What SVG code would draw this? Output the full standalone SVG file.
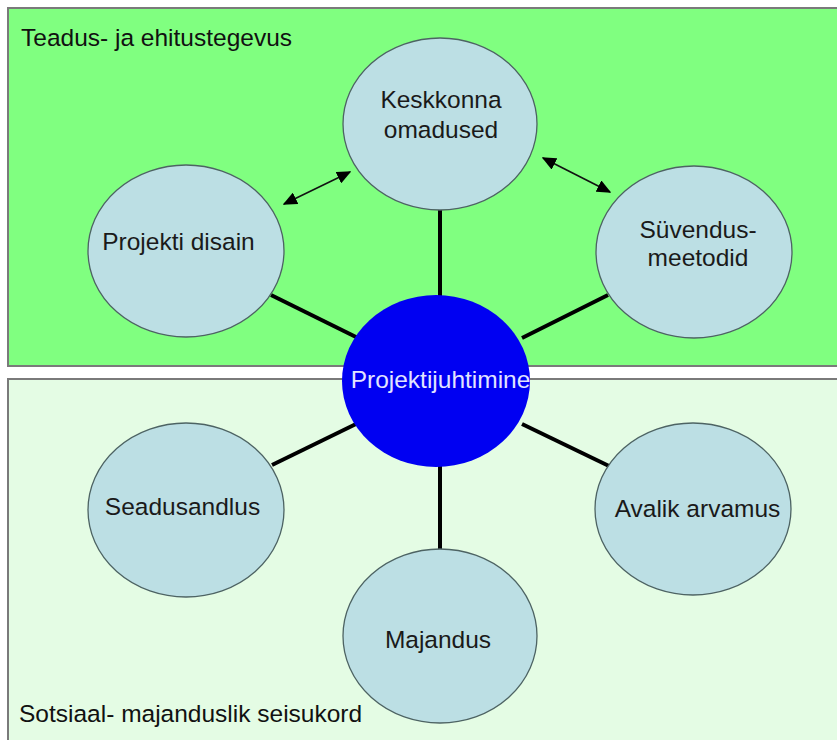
<svg xmlns="http://www.w3.org/2000/svg" width="837" height="740" viewBox="0 0 837 740">
  <defs>
    <style>
      .zone-top { fill: #80ff80; stroke: #7a7a7a; stroke-width: 2; }
      .zone-bot { fill: #e4fce4; stroke: #7a7a7a; stroke-width: 2; }
      .node { fill: #bcdfe4; stroke: #4d6363; stroke-width: 1.3; }
      .hub { fill: #0000f2; stroke: none; }
      .lbl { font-family: "Liberation Sans", Arial, sans-serif; font-size: 24.5px; fill: #1a1a1a; text-anchor: middle; }
      .zlbl { font-family: "Liberation Sans", Arial, sans-serif; font-size: 24.5px; fill: #111; }
      .hublbl { font-family: "Liberation Sans", Arial, sans-serif; font-size: 24.5px; fill: #e2e4ff; text-anchor: middle; }
      .spoke { stroke: #000; stroke-width: 4; fill: none; }
      .rel { stroke: #111; stroke-width: 1.6; fill: none; marker-start: url(#ah); marker-end: url(#ah); }
    </style>
    <marker id="ah" viewBox="0 0 10 10" refX="9" refY="5" markerWidth="9" markerHeight="8" orient="auto-start-reverse" markerUnits="strokeWidth" preserveAspectRatio="none">
      <path d="M0,0 L10,5 L0,10 Z" fill="#000"/>
    </marker>
  </defs>

  <rect width="837" height="740" fill="#ffffff"/>

  <g id="zone-teadus">
    <rect class="zone-top" x="8" y="8" width="840" height="358"/>
    <text class="zlbl" x="21" y="46">Teadus- ja ehitustegevus</text>
  </g>
  <g id="zone-sotsiaal">
    <rect class="zone-bot" x="8" y="379" width="840" height="380"/>
    <text class="zlbl" x="19" y="722">Sotsiaal- majanduslik seisukord</text>
  </g>

  <g id="connectors">
    <line class="spoke" x1="440" y1="210" x2="440" y2="297"/>
    <line class="spoke" x1="271" y1="295" x2="358" y2="338"/>
    <line class="spoke" x1="608" y1="295" x2="522" y2="338"/>
    <line class="spoke" x1="272" y1="465" x2="356" y2="424"/>
    <line class="spoke" x1="609" y1="466" x2="522" y2="424"/>
    <line class="spoke" x1="440" y1="466" x2="440" y2="550"/>
    <line class="rel" x1="284" y1="204" x2="350" y2="172"/>
    <line class="rel" x1="543" y1="158" x2="610" y2="192"/>
  </g>

  <g id="node-keskkonna">
    <ellipse class="node" cx="440" cy="124" rx="97" ry="86"/>
    <text class="lbl" x="441" y="108">Keskkonna</text>
    <text class="lbl" x="441" y="138">omadused</text>
  </g>
  <g id="node-projekti-disain">
    <ellipse class="node" cx="186" cy="251" rx="98" ry="86"/>
    <text class="lbl" x="178.5" y="250">Projekti disain</text>
  </g>
  <g id="node-suvendus">
    <ellipse class="node" cx="694" cy="252" rx="98" ry="86"/>
    <text class="lbl" x="698" y="238">Süvendus-</text>
    <text class="lbl" x="698" y="266">meetodid</text>
  </g>
  <g id="node-seadusandlus">
    <ellipse class="node" cx="186" cy="510" rx="98" ry="87"/>
    <text class="lbl" x="182.5" y="515">Seadusandlus</text>
  </g>
  <g id="node-avalik">
    <ellipse class="node" cx="693" cy="509" rx="98" ry="86"/>
    <text class="lbl" x="697.5" y="517">Avalik arvamus</text>
  </g>
  <g id="node-majandus">
    <ellipse class="node" cx="440" cy="636" rx="97" ry="87"/>
    <text class="lbl" x="438" y="648">Majandus</text>
  </g>
  <g id="node-projektijuhtimine">
    <ellipse class="hub" cx="436" cy="381" rx="94" ry="86"/>
    <text class="hublbl" x="440.5" y="388">Projektijuhtimine</text>
  </g>
</svg>
